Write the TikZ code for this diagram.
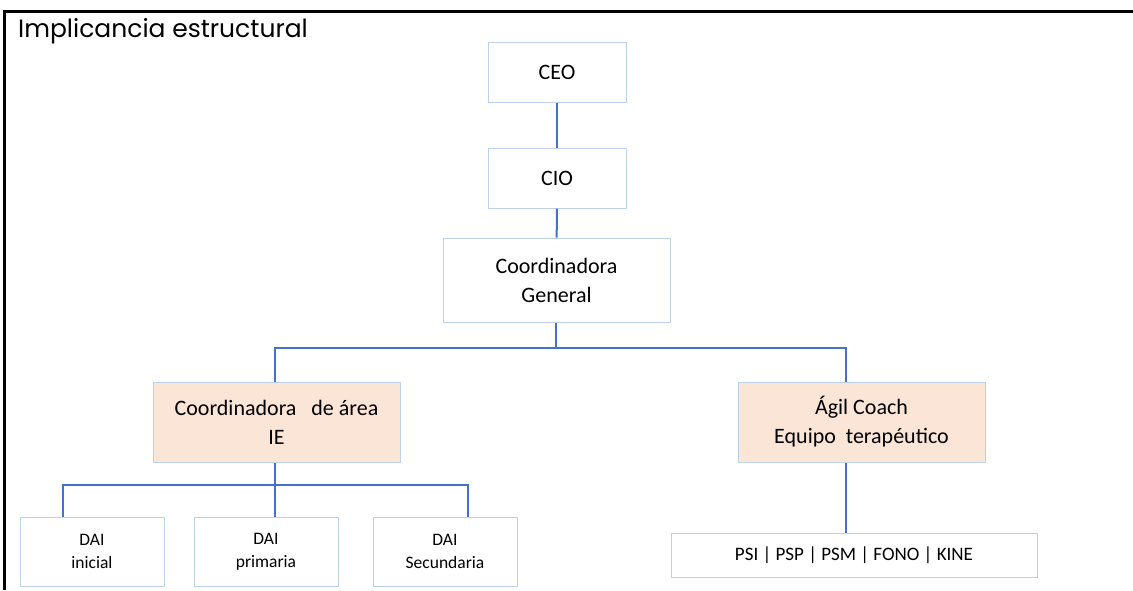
\documentclass[tikz,border=0pt]{standalone}
\usepackage{fontspec}
\setmainfont{Carlito}
\newfontfamily\titlefont{Poppins}
\usepackage{xcolor}
\definecolor{boxline}{HTML}{BDD0EC}
\definecolor{linkblue}{HTML}{4472C4}
\definecolor{peach}{HTML}{FBE5D6}
\tikzset{
    org-box/.style = {draw=boxline, fill=white, line width=1pt, rectangle, align=center, inner sep=0pt, font=\fontsize{22}{29}\selectfont},
    org-box-hl/.style = {org-box, fill=peach},
    org-box-small/.style = {org-box, font=\fontsize{17.5}{23}\selectfont},
    org-link/.style = {draw=linkblue, line width=2pt},
}

\begin{document}
\begin{tikzpicture}[x=1pt, y=-1pt]
\useasboundingbox (0,0) rectangle (1133,590);
% frame
\draw[line width=3pt] (4,590) -- (4,11) -- (1133,11);
\node[anchor=base west, inner sep=0pt, font=\titlefont\fontsize{25}{29}\selectfont] (title) at (18,37) {Implicancia estructural};

% top of the chart
\node[org-box, minimum width=138pt, minimum height=60pt] (ceo) at (557,72) {CEO};
\node[org-box, minimum width=138pt, minimum height=60pt] (cio) at (557,178) {CIO};
\node[org-box, minimum width=227pt, minimum height=84pt] (cgen) at (556.5,280) {Coordinadora\\General};

% areas
\node[org-box-hl, minimum width=247pt, minimum height=80pt] (cie) at (276.5,422) {Coordinadora~~ de área\\IE};
\node[org-box-hl, minimum width=247pt, minimum height=80pt] (agil) at (861.5,422) {Ágil Coach\\Equipo~ terapéutico};

% teams
\node[org-box-small, minimum width=144pt, minimum height=69pt] (dai1) at (92,551.5) {DAI\\inicial};
\node[org-box-small, minimum width=144pt, minimum height=69pt] (dai2) at (266,551.5) {DAI\\primaria};
\node[org-box-small, minimum width=144pt, minimum height=69pt] (dai3) at (445,551.5) {DAI\\Secundaria};
\node[org-box-small, font=\fontsize{19}{23}\selectfont, minimum width=366pt, minimum height=44pt] (ther) at (854,555) {PSI | PSP | PSM | FONO | KINE};

% connectors
\coordinate (jgen) at (556,348);
\coordinate (jag) at (846,348);
\coordinate (jie) at (275,485);
\coordinate (jd1) at (62.5,485);
\coordinate (jd3) at (468,485);
\draw[org-link] (ceo) -- (cio);
\draw[org-link] (cio) -- (cgen);
\draw[org-link] (cgen.south -| jgen) -- (jgen);
\draw[org-link] (cie.north -| jie) |- (jgen) -| (agil.north -| jag);
\draw[org-link] (agil.south -| jag) -- (ther.north -| jag);
\draw[org-link] (cie.south -| jie) -- (jie);
\draw[org-link] (dai1.north -| jd1) |- (jie) -| (dai3.north -| jd3);
\draw[org-link] (jie) -- (dai2.north -| jie);
\end{tikzpicture}
\end{document}
